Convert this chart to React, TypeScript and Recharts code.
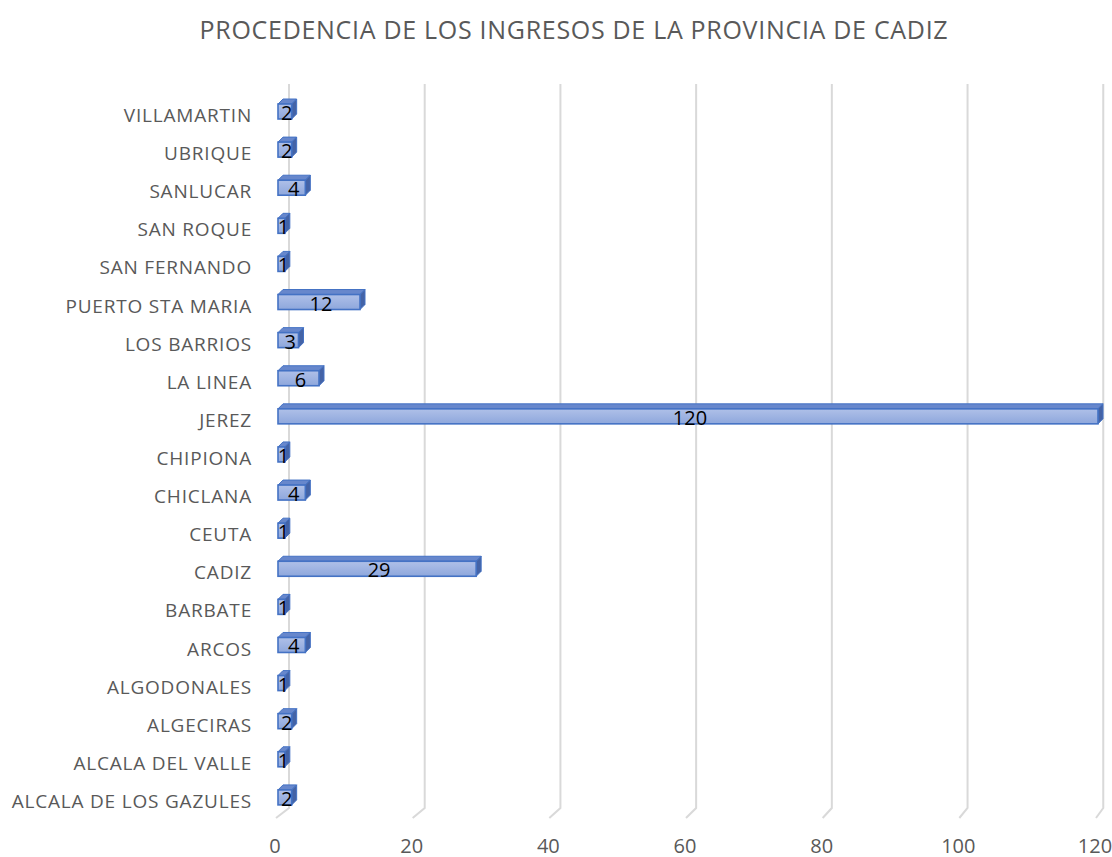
import React from "react";
import { BarChart, Bar, XAxis, YAxis, CartesianGrid, LabelList } from "recharts";

const categories: string[] = [
  "ALCALA DE LOS GAZULES",
  "ALCALA DEL VALLE",
  "ALGECIRAS",
  "ALGODONALES",
  "ARCOS",
  "BARBATE",
  "CADIZ",
  "CEUTA",
  "CHICLANA",
  "CHIPIONA",
  "JEREZ",
  "LA LINEA",
  "LOS BARRIOS",
  "PUERTO STA MARIA",
  "SAN FERNANDO",
  "SAN ROQUE",
  "SANLUCAR",
  "UBRIQUE",
  "VILLAMARTIN",
];

const values: number[] = [2, 1, 2, 1, 4, 1, 29, 1, 4, 1, 120, 6, 3, 12, 1, 1, 4, 2, 2];

const xTicks: number[] = [0, 20, 40, 60, 80, 100, 120];

const title = "PROCEDENCIA DE LOS INGRESOS DE LA PROVINCIA DE CADIZ";

const data = categories.map((name, i) => ({ name, value: values[i] }));

const FONT = "'Open Sans', 'Noto Sans', sans-serif";
const GRAY = "#595959";
const DEPTH = 5;

const Bar3D = (props: any) => {
  const { x, y, width, height } = props;
  const yy = y - 2;
  const w = Math.max(width, 0);
  const d = DEPTH;
  return (
    <g>
      <polygon
        points={`${x},${yy} ${x + d},${yy - d} ${x + w + d},${yy - d} ${x + w},${yy}`}
        fill="#6787CC"
        stroke="#4472C4"
        strokeWidth={1}
        strokeLinejoin="round"
      />
      <polygon
        points={`${x + w},${yy} ${x + w + d},${yy - d} ${x + w + d},${yy - d + height} ${x + w},${yy + height}`}
        fill="#4463A6"
        stroke="#4472C4"
        strokeWidth={1}
        strokeLinejoin="round"
      />
      <rect
        x={x}
        y={yy}
        width={w}
        height={height}
        fill="url(#frontGrad)"
        stroke="#4472C4"
        strokeWidth={1.6}
      />
    </g>
  );
};

const GridLine = (props: any) => {
  const { x1, y1, y2 } = props;
  const left = 278;
  const bx = 289 + (x1 - left) * 0.993;
  const top = y1 - 10;
  const bottom = y2;
  const d = `M${bx},${top} L${bx},${bottom - 10} L${x1 - 2},${bottom}`;
  return <path d={d} fill="none" stroke="#D9D9D9" strokeWidth={2} />;
};

const ValueLabel = (props: any) => {
  const { x, y, width, height, value } = props;
  return (
    <text
      x={x + width / 2 + 2}
      y={y - 1 + height / 2}
      textAnchor="middle"
      dominantBaseline="central"
      fill="#000000"
      fontSize={20}
      fontFamily={FONT}
    >
      {value}
    </text>
  );
};

const XTick = (props: any) => {
  const { x, y, payload } = props;
  return (
    <text
      x={x - 3}
      y={y}
      textAnchor="middle"
      dominantBaseline="central"
      fill={GRAY}
      fontSize={20}
      fontFamily={FONT}
    >
      {payload.value}
    </text>
  );
};

const YTick = (props: any) => {
  const { x, y, payload } = props;
  return (
    <text
      x={x}
      y={y + 2}
      textAnchor="end"
      dominantBaseline="central"
      fill={GRAY}
      fontSize={19}
      letterSpacing={0.8}
      fontFamily={FONT}
    >
      {payload.value}
    </text>
  );
};

export default function App() {
  return (
    <div style={{ position: "absolute", left: 0, top: 0, width: 1112, height: 857, background: "#fff" }}>
      <div
        style={{
          position: "absolute",
          left: 18,
          top: 12,
          width: 1112,
          textAlign: "center",
          fontFamily: FONT,
          fontSize: 25,
          letterSpacing: 0.7,
          color: GRAY,
          whiteSpace: "nowrap",
        }}
      >
        {title}
      </div>
      <BarChart
        width={1112}
        height={857}
        data={data}
        layout="vertical"
        margin={{ top: 94, right: 14, left: 0, bottom: 0 }}
      >
        <defs>
          <linearGradient id="frontGrad" x1="0" y1="0" x2="0" y2="1">
            <stop offset="0%" stopColor="#AFC0E8" />
            <stop offset="100%" stopColor="#8EA7DC" />
          </linearGradient>
        </defs>
        <CartesianGrid horizontal={false} vertical={GridLine as any} />
        <XAxis
          type="number"
          domain={[0, 120]}
          ticks={xTicks}
          axisLine={false}
          tickLine={false}
          tickSize={0}
          tickMargin={27}
          height={39}
          tick={XTick}
          interval={0}
        />
        <YAxis
          type="category"
          dataKey="name"
          reversed
          width={278}
          axisLine={false}
          tickLine={false}
          tickSize={0}
          tickMargin={26}
          interval={0}
          tick={YTick}
        />
        <Bar dataKey="value" barSize={15} shape={Bar3D} isAnimationActive={false}>
          <LabelList dataKey="value" content={ValueLabel} />
        </Bar>
      </BarChart>
    </div>
  );
}
